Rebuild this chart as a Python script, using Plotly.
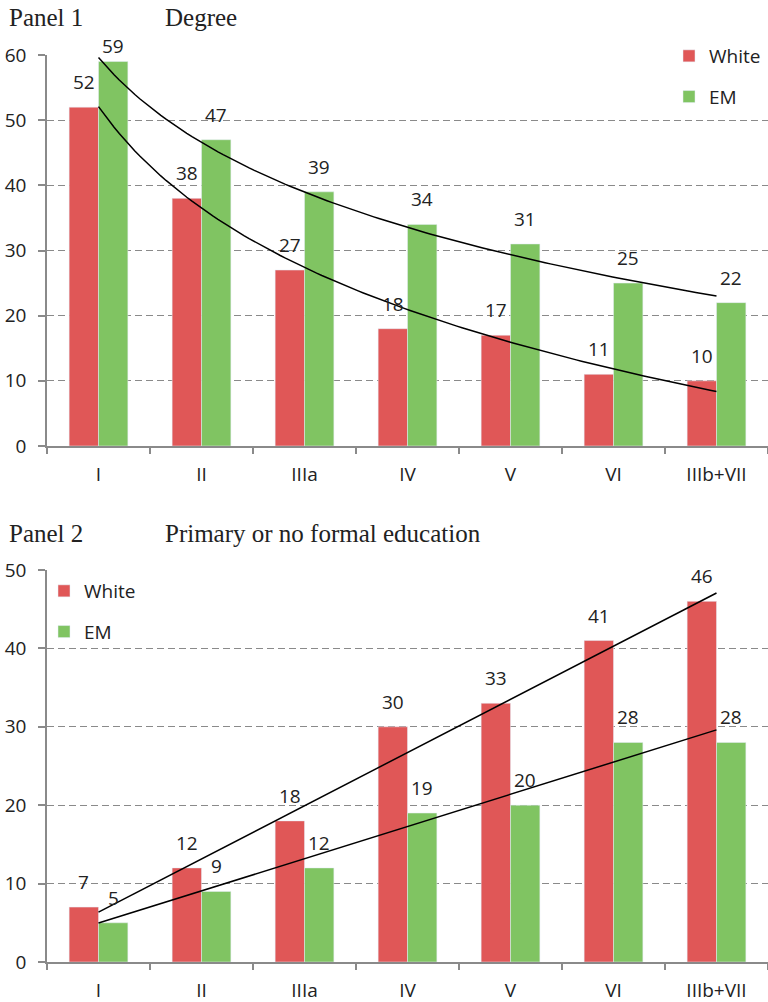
import numpy as np
import plotly.graph_objects as go

# DATA

categories = ["I", "II", "IIIa", "IV", "V", "VI", "IIIb+VII"]

degree_white = [52, 38, 27, 18, 17, 11, 10]
degree_em = [59, 47, 39, 34, 31, 25, 22]

primary_white = [7, 12, 18, 30, 33, 41, 46]
primary_em = [5, 9, 12, 19, 20, 28, 28]

RED = "#E05757"
GREEN = "#80C462"
GRAY = "#8A8A8A"
SANS = "Open Sans"
SERIF = "Liberation Serif"
FS = 19

W, H = 768, 1002
pos = np.arange(1, len(categories) + 1)
off = 0.143  # half bar width in category units


def py(px_from_top):
    return 1 - px_from_top / H


# TRENDLINES (log fit for panel 1, linear for panel 2, like Excel)

def log_trend(vals):
    b, a = np.polyfit(np.log(pos), vals, 1)
    xs = np.linspace(1, len(vals), 120)
    return xs, a + b * np.log(xs)


def lin_trend(vals):
    b, a = np.polyfit(pos, vals, 1)
    xs = np.linspace(1, len(vals), 2)
    return xs, a + b * xs


fig = go.Figure()

panels = [
    ("x", "y", "legend", degree_white, degree_em, log_trend, 60),
    ("x2", "y2", "legend2", primary_white, primary_em, lin_trend, 50),
]

for xa, ya, lg, white, em, trend, ymax in panels:
    fig.add_bar(x=pos, y=white, name="White", marker_color=RED, xaxis=xa, yaxis=ya,
                legend=lg, legendgroup=lg + "w", offsetgroup="w")
    fig.add_bar(x=pos, y=em, name="EM", marker_color=GREEN, xaxis=xa, yaxis=ya,
                legend=lg, legendgroup=lg + "e", offsetgroup="e")
    for vals in (white, em):
        tx, ty = trend(vals)
        fig.add_scatter(x=tx, y=ty, mode="lines", line=dict(color="black", width=1.5),
                        xaxis=xa, yaxis=ya, showlegend=False, hoverinfo="skip")
    for vals, dx in ((white, -off), (em, off)):
        for p, v in zip(pos, vals):
            # labels near the top of the plot get pushed down, as in Excel
            shift = 1 if v > ymax - 3 else 10
            fig.add_annotation(x=p + dx, y=v, text=str(v), xref=xa, yref=ya,
                               showarrow=False, yanchor="bottom", yshift=shift,
                               font=dict(family=SANS, size=FS, color="#222"))

# panel titles
titles = [
    (17, "Panel 1", "Degree"),
    (533, "Panel 2", "Primary or no formal education"),
]
for ypx, left, right in titles:
    fig.add_annotation(x=7 / W, y=py(ypx), xref="paper", yref="paper", text=left,
                       showarrow=False, xanchor="left", yanchor="middle",
                       font=dict(family=SERIF, size=25, color="#222"))
    fig.add_annotation(x=163 / W, y=py(ypx), xref="paper", yref="paper", text=right,
                       showarrow=False, xanchor="left", yanchor="middle",
                       font=dict(family=SERIF, size=25, color="#222"))

xaxis_style = dict(
    range=[0.5, 7.5], tickvals=pos, ticktext=categories, ticks="",
    ticklabelstandoff=10, showline=True, linecolor=GRAY, linewidth=1.5,
    showgrid=False, zeroline=False, automargin=False,
    minor=dict(tickmode="linear", tick0=0.5, dtick=1, ticks="outside",
               ticklen=6, tickcolor=GRAY, tickwidth=1.5, showgrid=False),
    tickfont=dict(family=SANS, size=FS, color="#222"),
    domain=[47 / W, 1],
)
yaxis_style = dict(
    dtick=10, ticks="outside", ticklen=7, tickcolor=GRAY, tickwidth=1.5,
    ticklabelstandoff=8, showline=True, linecolor=GRAY, linewidth=1.5,
    showgrid=True, gridcolor=GRAY, griddash="7px,4px", gridwidth=1.2, zeroline=False,
    automargin=False,
    tickfont=dict(family=SANS, size=FS, color="#222"),
)

fig.update_layout(
    width=W, height=H,
    margin=dict(l=0, r=0, t=0, b=0, autoexpand=False),
    paper_bgcolor="white", plot_bgcolor="white",
    barmode="group", bargap=0.43, bargroupgap=0,
    xaxis=dict(**xaxis_style, anchor="y"),
    yaxis=dict(**yaxis_style, range=[0, 60], domain=[py(446), py(55)], anchor="x"),
    xaxis2=dict(**xaxis_style, anchor="y2"),
    yaxis2=dict(**yaxis_style, range=[0, 50], domain=[py(962), py(570)], anchor="x2"),
    legend=dict(x=669 / W, y=py(37), xanchor="left", yanchor="top",
                tracegroupgap=13, bgcolor="rgba(0,0,0,0)",
                font=dict(family=SANS, size=FS, color="#222")),
    legend2=dict(x=44 / W, y=py(572), xanchor="left", yanchor="top",
                 tracegroupgap=13, bgcolor="rgba(0,0,0,0)",
                 font=dict(family=SANS, size=FS, color="#222")),
    showlegend=True,
)

fig.write_html("out.html", config={"displayModeBar": False},
               post_script="document.body.style.margin='0px';")
